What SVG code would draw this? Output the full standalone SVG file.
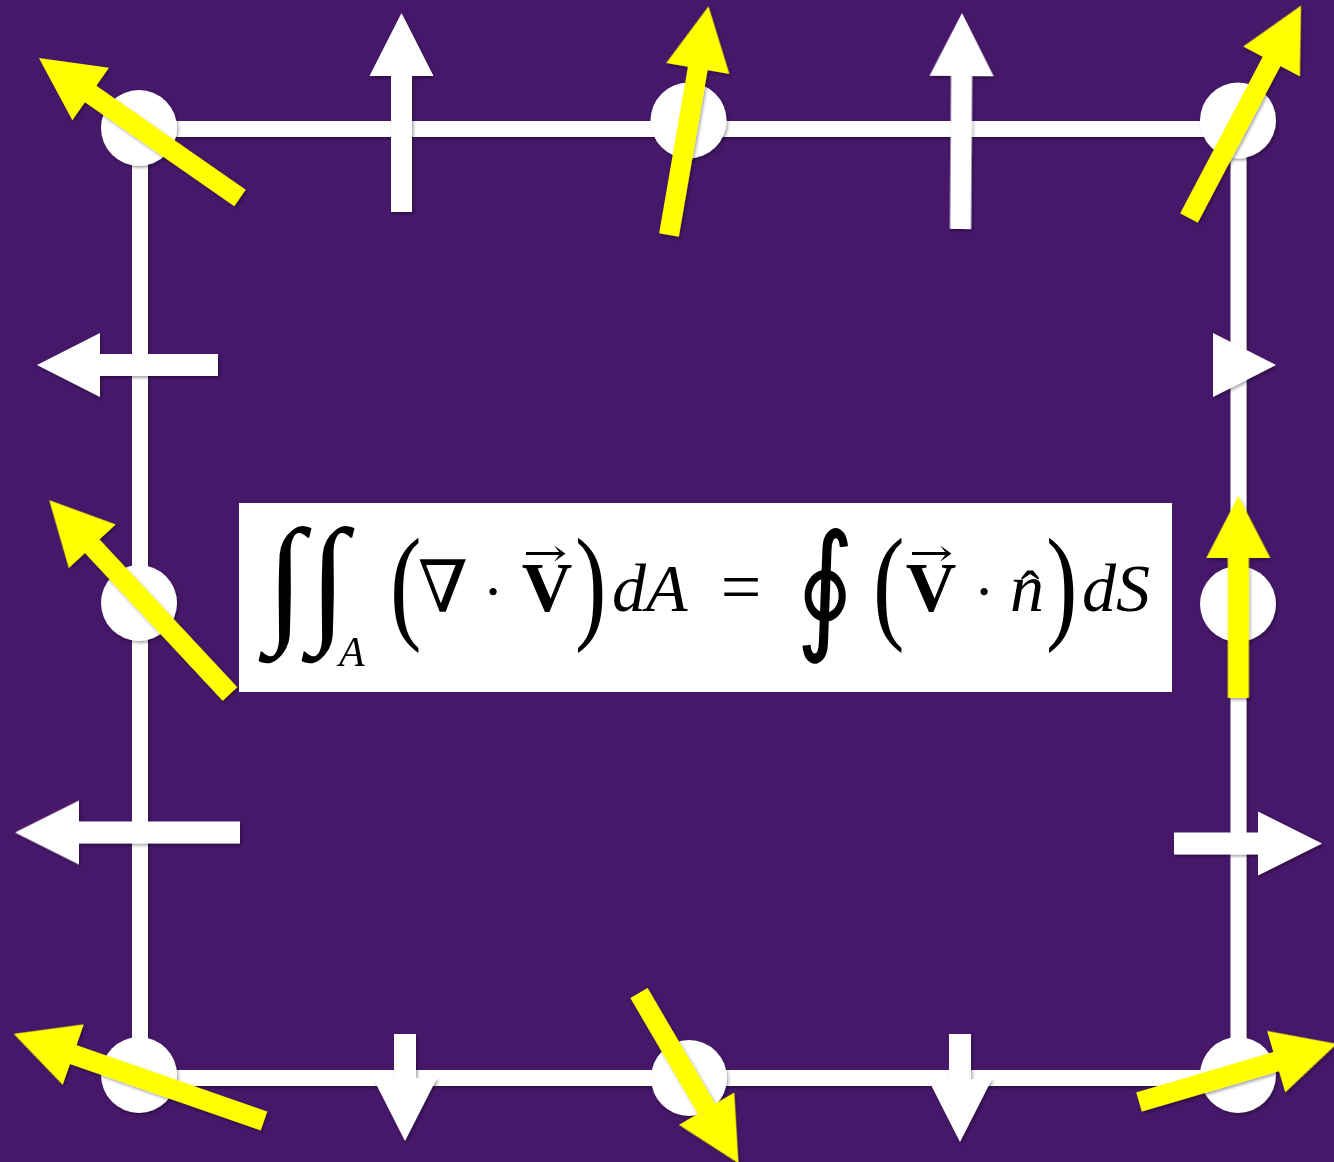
<svg xmlns="http://www.w3.org/2000/svg" width="1334" height="1162" viewBox="0 0 1334 1162">
<defs>
<style>
.bg{fill:#46186A}
.edge{stroke:#FFFFFF;stroke-width:16;fill:none;stroke-linecap:butt}
.node{fill:#FFFFFF}
.white{fill:#FFFFFF}
.yellow{fill:#FFFF00}
.m{font-family:"Liberation Serif","DejaVu Serif",serif;fill:#000}
.mi{font-family:"Liberation Serif","DejaVu Serif",serif;font-style:italic;fill:#000}
.sym{font-family:"DejaVu Serif","DejaVu Sans",serif;fill:#000}
.int{font-family:"Liberation Serif","DejaVu Serif",serif;fill:#000}
</style>
<filter id="sh" x="-20%" y="-20%" width="140%" height="140%">
<feDropShadow dx="1.5" dy="2" stdDeviation="1.5" flood-color="#000" flood-opacity="0.35"/>
</filter>
</defs>
<rect class="bg" x="0" y="0" width="1334" height="1162"/>

<g id="connectors" filter="url(#sh)">
<line class="edge" x1="139" y1="129" x2="1238" y2="129"/>
<line class="edge" x1="140" y1="128" x2="140" y2="1078"/>
<line class="edge" x1="1238.5" y1="120" x2="1238.5" y2="1078"/>
<line class="edge" x1="139" y1="1078" x2="1238" y2="1078"/>
</g>

<g id="normals" filter="url(#sh)">
<polygon id="n-top-left" class="white" transform="translate(401.5,212) rotate(-90)" points="0,-10.5 136,-10.5 136,-32 199,0 136,32 136,10.5 0,10.5"/>
<polygon id="n-top-right" class="white" transform="translate(960.5,229) rotate(-89.6)" points="0,-10.5 153,-10.5 153,-32 216,0 153,32 153,10.5 0,10.5"/>
<polygon id="n-left-upper" class="white" transform="translate(218,365) rotate(180)" points="0,-11 118,-11 118,-32 181,0 118,32 118,11 0,11"/>
<polygon id="n-left-lower" class="white" transform="translate(240,832.5) rotate(180)" points="0,-11 161,-11 161,-32 225,0 161,32 161,11 0,11"/>
<polygon id="n-right-upper" class="white" points="1213,333 1276,365 1213,397"/>
<polygon id="n-right-lower" class="white" transform="translate(1174,843.5)" points="0,-11 84,-11 84,-32 148,0 84,32 84,11 0,11"/>
<polygon id="n-bottom-left" class="white" transform="translate(405,1034) rotate(90)" points="0,-11 44,-11 44,-32 107,0 44,32 44,11 0,11"/>
<polygon id="n-bottom-right" class="white" transform="translate(960,1034) rotate(90)" points="0,-11 45,-11 45,-32 108,0 45,32 45,11 0,11"/>
</g>

<g id="nodes" filter="url(#sh)">
<g id="node-top-left"><circle class="node" cx="139" cy="128" r="38"/></g>
<g id="node-top-mid"><circle class="node" cx="688.5" cy="120.5" r="38"/></g>
<g id="node-top-right"><circle class="node" cx="1238" cy="120.5" r="38"/></g>
<g id="node-left-mid"><circle class="node" cx="139" cy="603" r="38"/></g>
<g id="node-right-mid"><circle class="node" cx="1238" cy="604" r="38"/></g>
<g id="node-bottom-left"><circle class="node" cx="139" cy="1075" r="38"/></g>
<g id="node-bottom-mid"><circle class="node" cx="689" cy="1078" r="38"/></g>
<g id="node-bottom-right"><circle class="node" cx="1238" cy="1075" r="38"/></g>
</g>

<g id="field-vectors" filter="url(#sh)">
<polygon id="v-top-left" class="yellow" transform="translate(240,198) rotate(-145.15)" points="0,-10 182,-10 182,-32 245,0 182,32 182,10 0,10"/>
<polygon id="v-top-mid" class="yellow" transform="translate(669,235) rotate(-80.2)" points="0,-10 169,-10 169,-32 232,0 169,32 169,10 0,10"/>
<polygon id="v-top-right" class="yellow" transform="translate(1189,218) rotate(-62.2)" points="0,-10 177,-10 177,-32 240,0 177,32 177,10 0,10"/>
<polygon id="v-left-mid" class="yellow" transform="translate(230,694) rotate(-133)" points="0,-10 202,-10 202,-32 265,0 202,32 202,10 0,10"/>
<polygon id="v-right-mid" class="yellow" transform="translate(1238.3,698) rotate(-90)" points="0,-10.5 140,-10.5 140,-32 202,0 140,32 140,10.5 0,10.5"/>
<polygon id="v-bottom-left" class="yellow" transform="translate(264,1121) rotate(-160.8)" points="0,-10 202,-10 202,-32 265,0 202,32 202,10 0,10"/>
<polygon id="v-bottom-mid" class="yellow" transform="translate(639,993) rotate(59.7)" points="0,-10 134,-10 134,-32 197,0 134,32 134,10 0,10"/>
<polygon id="v-bottom-right" class="yellow" transform="translate(1139,1102) rotate(-16.4)" points="0,-10 143,-10 143,-32 206,0 143,32 143,10 0,10"/>
</g>

<g id="formula">
<rect x="239" y="503" width="933" height="189" fill="#FFFFFF"/>
<text class="int" x="266" y="626" font-size="140">∫</text>
<text class="int" x="309" y="626" font-size="140">∫</text>
<text class="mi" x="339" y="666" font-size="42">A</text>
<text class="m" transform="translate(390,626) scale(0.75,1)" font-size="126">(</text>
<text class="sym" x="443" y="612" font-size="72" text-anchor="middle">∇</text>
<text class="sym" x="493" y="611" font-size="56" text-anchor="middle">⋅</text>
<text class="m" x="547" y="611" font-size="70" font-weight="bold" text-anchor="middle">V</text>
<text class="sym" transform="translate(545,566) scale(1.1,0.8)" font-size="48" text-anchor="middle">→</text>
<text class="m" transform="translate(575,626) scale(0.75,1)" font-size="126">)</text>
<text class="mi" x="612" y="611" font-size="68">dA</text>
<text class="m" x="741" y="611" font-size="72" text-anchor="middle">=</text>
<text class="sym" transform="translate(796,634) scale(0.8,1)" font-size="140">∮</text>
<text class="m" transform="translate(873,626) scale(0.75,1)" font-size="126">(</text>
<text class="m" x="931" y="611" font-size="70" font-weight="bold" text-anchor="middle">V</text>
<text class="sym" transform="translate(931,566) scale(1.1,0.8)" font-size="48" text-anchor="middle">→</text>
<text class="sym" x="984" y="611" font-size="56" text-anchor="middle">⋅</text>
<text class="mi" x="1010" y="611" font-size="68">n</text>
<text class="m" x="1030" y="610" font-size="56" text-anchor="middle">ˆ</text>
<text class="m" transform="translate(1046,626) scale(0.75,1)" font-size="126">)</text>
<text class="mi" x="1082" y="611" font-size="68">dS</text>
</g>
</svg>
